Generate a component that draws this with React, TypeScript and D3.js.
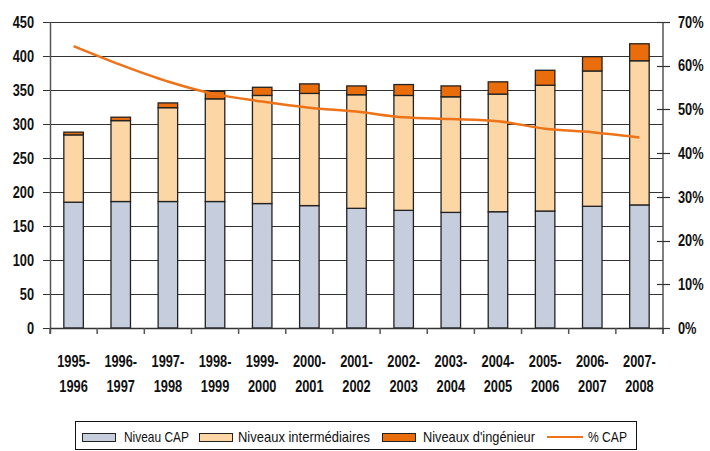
import React, { useEffect, useRef } from 'react';
import * as d3 from 'd3';

const periods = [
  '1995-1996', '1996-1997', '1997-1998', '1998-1999', '1999-2000', '2000-2001', '2001-2002',
  '2002-2003', '2003-2004', '2004-2005', '2005-2006', '2006-2007', '2007-2008',
];
const niveauCap = [185, 186, 186, 186, 183, 180, 176, 173, 170, 171, 172, 179, 181];
const niveauxInter = [99, 119, 138, 151, 159, 165, 167, 169, 170, 173, 185, 199, 212];
const niveauxIng = [4, 5, 7, 11, 12, 14, 13, 16, 16, 18, 22, 21, 25];
const pctCap = [64.5, 60.2, 56.4, 53.5, 51.8, 50.4, 49.5, 48.2, 47.8, 47.3, 45.6, 44.8, 43.6];
const leftTicks = [0, 50, 100, 150, 200, 250, 300, 350, 400, 450];
const rightTicks = [0, 10, 20, 30, 40, 50, 60, 70];

const seriesNames = ['Niveau CAP', 'Niveaux intermédiaires', "Niveaux d'ingénieur"];
const seriesColors = ['#C6CEDE', '#FCD6A5', '#EA6D0C'];
const lineColor = '#EE7318';
const font = '"Liberation Sans", Arial, sans-serif';
const squeeze = 0.8; // narrow the glyphs, the original uses a condensed face

const W = 710;
const H = 451;

export default function App() {
  const svgRef = useRef<SVGSVGElement>(null);

  useEffect(() => {
    if (!svgRef.current) return;
    const margin = { top: 22, right: 47, bottom: 123, left: 50 };
    const width = W - margin.left - margin.right;
    const height = H - margin.top - margin.bottom;

    d3.select(svgRef.current).selectAll('*').remove();
    const root = d3.select(svgRef.current);
    root.append('rect').attr('width', W).attr('height', H).attr('fill', '#fff');

    const svg = root.append('g').attr('transform', `translate(${margin.left},${margin.top})`);

    // condensed text helper
    const label = (
      parent: d3.Selection<SVGGElement, unknown, null, undefined>,
      tx: number,
      ty: number,
      txt: string,
      opts: { size: number; bold?: boolean; anchor?: string }
    ) =>
      parent
        .append('text')
        .attr('transform', `translate(${tx},${ty}) scale(${squeeze},1)`)
        .attr('dy', '0.36em')
        .attr('text-anchor', opts.anchor || 'start')
        .style('font-family', font)
        .style('font-weight', opts.bold ? 'bold' : 'normal')
        .style('font-size', `${opts.size}px`)
        .attr('fill', '#111')
        .text(txt);

    const x = d3.scaleBand().domain(periods).range([0, width]).paddingInner(0).paddingOuter(0);
    const y = d3.scaleLinear().domain([0, 450]).range([height, 0]);
    const y2 = d3.scaleLinear().domain([0, 70]).range([height, 0]);

    // gridlines + left ticks
    svg
      .selectAll('.grid')
      .data(leftTicks)
      .enter()
      .append('line')
      .attr('x1', -7)
      .attr('x2', width)
      .attr('y1', d => Math.round(y(d)) + 0.5)
      .attr('y2', d => Math.round(y(d)) + 0.5)
      .attr('stroke', '#333')
      .attr('stroke-width', 1.2);

    leftTicks.forEach(t => label(svg, -16, y(t), String(t), { size: 16, bold: true, anchor: 'end' }));

    // stacked bars
    const rows = periods.map((p, i) => ({ period: p, cap: niveauCap[i], inter: niveauxInter[i], ing: niveauxIng[i] }));
    const stack = d3.stack<any>().keys(['cap', 'inter', 'ing'])(rows);
    const barW = 19.5;

    stack.forEach((layer, li) => {
      svg
        .append('g')
        .selectAll('rect')
        .data(layer)
        .enter()
        .append('rect')
        .attr('x', d => x(d.data.period)! + x.bandwidth() / 2 - barW / 2)
        .attr('y', d => y(d[1]))
        .attr('width', barW)
        .attr('height', d => y(d[0]) - y(d[1]))
        .attr('fill', seriesColors[li])
        .attr('stroke', '#222')
        .attr('stroke-width', 1.3);
    });

    // axes lines
    svg.append('line').attr('x1', 0.5).attr('x2', 0.5).attr('y1', 0).attr('y2', height + 6)
      .attr('stroke', '#555').attr('stroke-width', 1.5);
    svg.append('line').attr('x1', width).attr('x2', width).attr('y1', 0).attr('y2', height + 6)
      .attr('stroke', '#555').attr('stroke-width', 1.5);
    svg.append('line').attr('x1', 0).attr('x2', width).attr('y1', height + 0.5).attr('y2', height + 0.5)
      .attr('stroke', '#333').attr('stroke-width', 1.5);

    // x ticks at band boundaries
    const bounds = periods.map(p => x(p)!).concat([width]);
    svg
      .selectAll('.xtick')
      .data(bounds)
      .enter()
      .append('line')
      .attr('x1', d => d)
      .attr('x2', d => d)
      .attr('y1', height)
      .attr('y2', height + 6)
      .attr('stroke', '#555')
      .attr('stroke-width', 1.5);

    periods.forEach(p => {
      const cx = x(p)! + x.bandwidth() / 2;
      const [a, b] = p.split('-');
      label(svg, cx, height + 33, a + '-', { size: 16, bold: true, anchor: 'middle' });
      label(svg, cx, height + 58, b, { size: 16, bold: true, anchor: 'middle' });
    });

    // right axis ticks
    svg
      .selectAll('.rtick')
      .data(rightTicks)
      .enter()
      .append('line')
      .attr('x1', width - 6)
      .attr('x2', width + 7)
      .attr('y1', d => Math.round(y2(d)) + 0.5)
      .attr('y2', d => Math.round(y2(d)) + 0.5)
      .attr('stroke', '#333')
      .attr('stroke-width', 1.2);
    rightTicks.forEach(t => label(svg, width + 15, y2(t), `${t}%`, { size: 16, bold: true }));

    // % CAP line
    const line = d3
      .line<number>()
      .x((_, i) => x(periods[i])! + x.bandwidth() / 2)
      .y(d => y2(d))
      .curve(d3.curveMonotoneX);
    svg
      .append('path')
      .datum(pctCap)
      .attr('d', line)
      .attr('fill', 'none')
      .attr('stroke', lineColor)
      .attr('stroke-width', 2.5);

    // legend
    const lg = root.append('g');
    lg.append('rect')
      .attr('x', 75.5)
      .attr('y', 421.5)
      .attr('width', 561)
      .attr('height', 28)
      .attr('fill', '#fff')
      .attr('stroke', '#111')
      .attr('stroke-width', 1);
    const swatchX = [82, 199, 382];
    const textX = [124, 238, 423, 588];
    const textW = [65, 132, 112, 39];
    const legendText = (i: number, txt: string) =>
      lg.append('text')
        .attr('x', textX[i])
        .attr('y', 437)
        .attr('dy', '0.36em')
        .attr('textLength', textW[i])
        .attr('lengthAdjust', 'spacingAndGlyphs')
        .style('font-family', font)
        .style('font-size', '15px')
        .attr('fill', '#111')
        .text(txt);
    seriesNames.forEach((name, i) => {
      lg.append('rect')
        .attr('x', swatchX[i] + 0.5)
        .attr('y', 433.5)
        .attr('width', 33)
        .attr('height', 8)
        .attr('fill', seriesColors[i])
        .attr('stroke', '#222')
        .attr('stroke-width', 1);
      legendText(i, name);
    });
    lg.append('line')
      .attr('x1', 547)
      .attr('x2', 583)
      .attr('y1', 437)
      .attr('y2', 437)
      .attr('stroke', lineColor)
      .attr('stroke-width', 2);
    legendText(3, '% CAP');
  }, []);

  return (
    <svg
      ref={svgRef}
      width={W}
      height={H}
      style={{ position: 'absolute', left: 0, top: 0, display: 'block' }}
    />
  );
}
